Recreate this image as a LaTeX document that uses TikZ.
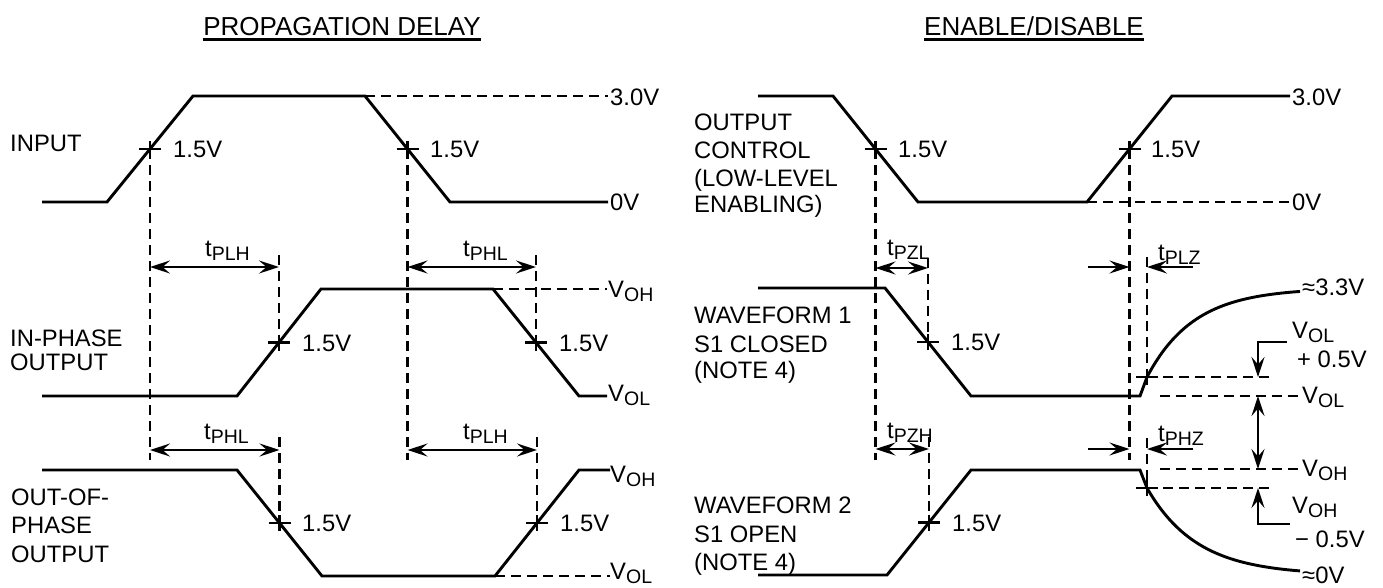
\documentclass[tikz,border=0pt]{standalone}
\usepackage{fontspec}
\setmainfont{Liberation Sans}
\usetikzlibrary{arrows.meta}
\newcommand\sbs[1]{\raisebox{-4pt}{\fontsize{19.5}{19.5}\selectfont #1}}
\tikzset{
  wave/.style={line width=2.9pt},
  dline/.style={line width=2.5pt, dash pattern=on 10pt off 6pt},
  tickln/.style={line width=2.5pt},
  arr/.style={line width=2.4pt},
  hd/.tip={Stealth[length=20pt,width=13pt,inset=7.5pt]},
  txt/.style={font=\fontsize{23.8}{27}\selectfont, inner sep=0pt, anchor=base west},
  ttl/.style={font=\fontsize{26}{30}\selectfont, inner sep=0pt, anchor=base},
  crossmk/.pic={\draw[tickln] (-11,0) -- (11,0) (0,-8) -- (0,8);}
}
\begin{document}
\begin{tikzpicture}[x=1pt,y=-1pt]
\useasboundingbox (0,0) rectangle (1383,587);
% ---------------- titles
\node[ttl] (T1) at (342,35) {PROPAGATION DELAY};
\draw[line width=2.8pt] ([yshift=-4.5pt]T1.base west) -- ([yshift=-4.5pt]T1.base east);
\node[ttl] (T2) at (1034,35) {ENABLE/DISABLE};
\draw[line width=2.8pt] ([yshift=-4.5pt]T2.base west) -- ([yshift=-4.5pt]T2.base east);

% ================= LEFT PANEL
\coordinate (cI1) at (150,149);
\coordinate (cI2) at (407.5,149);
\coordinate (cA1) at (279,342.5);
\coordinate (cA2) at (536,342.5);
\coordinate (cB1) at (279.5,523);
\coordinate (cB2) at (537,523);
% input
\draw[wave] (42,202) -- (107,202) -- (193,96) -- (365,96) -- (450,202) -- (608,202);
\draw[dline] (365,96) -- (608,96);
% in-phase
\draw[wave] (42,396) -- (237,396) -- (321,289) -- (493,289) -- (579,396) -- (607,396);
\draw[dline] (493,289) -- (607,289);
% out-of-phase
\draw[wave] (42,470) -- (237,470) -- (322,576) -- (495,576) -- (579,470) -- (610,470);
\draw[dline] (495,576) -- (610,576);
% vertical dashed
\draw[dline] (cI1) -- (150,460);
\draw[dline] (cI2) -- (407.5,460);
\draw[dline] (279,255) -- (cA1);
\draw[dline] (536,255) -- (cA2);
\draw[dline] (279.5,437) -- (cB1);
\draw[dline] (537,437) -- (cB2);
% crosses
\foreach \c in {cI1,cI2,cA1,cA2,cB1,cB2} \pic at (\c) {crossmk};
% dimension arrows
\draw[arr,{hd}-{hd}] (150,267) -- (279,267);
\draw[arr,{hd}-{hd}] (407.5,267) -- (536,267);
\draw[arr,{hd}-{hd}] (150,450) -- (279.5,450);
\draw[arr,{hd}-{hd}] (407.5,450) -- (537,450);
% labels
\node[txt] (lin) at (10,151) {INPUT};
\node[txt] (lip1) at (10,346) {IN-PHASE};
\node[txt] (lip2) at (10,370) {OUTPUT};
\node[txt] (lop1) at (11,505) {OUT-OF-};
\node[txt] (lop2) at (11,533) {PHASE};
\node[txt] (lop3) at (11,562) {OUTPUT};
\node[txt] (v1) at (173,157.5) {1.5V};
\node[txt] (v2) at (430,157.5) {1.5V};
\node[txt] (v3) at (302,351) {1.5V};
\node[txt] (v4) at (559,351) {1.5V};
\node[txt] (v5) at (302,531.5) {1.5V};
\node[txt] (v6) at (560,531.5) {1.5V};
\node[txt] (r1) at (610,105) {3.0V};
\node[txt] (r2) at (610,210) {0V};
\node[txt] (r3) at (608,297) {V\sbs{OH}};
\node[txt] (r4) at (608,401) {V\sbs{OL}};
\node[txt] (r5) at (610,482) {V\sbs{OH}};
\node[txt] (r6) at (610,579) {V\sbs{OL}};
\node[txt] (t1) at (205,256) {t\sbs{PLH}};
\node[txt] (t2) at (463,256) {t\sbs{PHL}};
\node[txt] (t3) at (204,439) {t\sbs{PHL}};
\node[txt] (t4) at (463,439) {t\sbs{PLH}};

% ================= RIGHT PANEL
\coordinate (cC1) at (875.5,149);
\coordinate (cC2) at (1129.5,149);
\coordinate (cW1) at (928,342);
\coordinate (cW2) at (929,522.5);
\coordinate (cZ1) at (1147,377);
\coordinate (cZ2) at (1147,488);
% output control
\draw[wave] (758,96) -- (833,96) -- (918,202) -- (1087,202) -- (1172,96) -- (1290,96);
\draw[dline] (1087,202) -- (1290,202);
% waveform 1
\draw[wave] (758,288) -- (885,288) -- (971,396) -- (1140,396) -- (cZ1)
  -- plot[domain=1147:1300,samples=50] (\x,{288+89*exp(-(\x-1147)/47)});
% waveform 2
\draw[wave] (758,575) -- (887,575) -- (971,470) -- (1140,470) -- (cZ2)
  -- plot[domain=1147:1300,samples=50] (\x,{575-87*exp(-(\x-1147)/50)});
% vertical dashed
\draw[dline] (cC1) -- (875.5,460);
\draw[dline] (cC2) -- (1129.5,460);
\draw[dline] (928,258) -- (cW1);
\draw[dline] (929,437) -- (cW2);
\draw[dline] (1147,257) -- (cZ1);
\draw[dline] (1147,438) -- (cZ2);
% horizontal dashed levels
\draw[dline] (cZ1) -- (1270,377);
\draw[dline] (1160,396) -- (1300,396);
\draw[dline] (1160,469) -- (1300,469);
\draw[dline] (cZ2) -- (1270,488);
% crosses
\foreach \c in {cC1,cC2,cW1,cW2,cZ1,cZ2} \pic at (\c) {crossmk};
% arrows
\draw[arr,{hd}-{hd}] (875.5,268) -- (928,268);
\draw[arr,{hd}-{hd}] (875.5,449) -- (929,449);
\draw[arr,-{hd}] (1088,267) -- (1129.5,267);
\draw[arr,-{hd}] (1193,267) -- (1147,267);
\draw[arr,-{hd}] (1088,449) -- (1129.5,449);
\draw[arr,-{hd}] (1193,449) -- (1147,449);
\draw[arr,-{hd}] (1287,342) -- (1258,342) -- (1258,377);
\draw[arr,{hd}-{hd}] (1258,396) -- (1258,469);
\draw[arr,-{hd}] (1290,524) -- (1258,524) -- (1258,488);
% labels
\node[txt] (oc1) at (694,130) {OUTPUT};
\node[txt] (oc2) at (694,158) {CONTROL};
\node[txt] (oc3) at (694,186) {(LOW-LEVEL};
\node[txt] (oc4) at (694,212) {ENABLING)};
\node[txt] (w11) at (694,323) {WAVEFORM 1};
\node[txt] (w12) at (694,352) {S1 CLOSED};
\node[txt] (w13) at (694,378) {(NOTE 4)};
\node[txt] (w21) at (694,513) {WAVEFORM 2};
\node[txt] (w22) at (694,542) {S1 OPEN};
\node[txt] (w23) at (694,570) {(NOTE 4)};
\node[txt] (u1) at (898,157.5) {1.5V};
\node[txt] (u2) at (1151,157.5) {1.5V};
\node[txt] (u3) at (951,350.5) {1.5V};
\node[txt] (u4) at (952,531) {1.5V};
\node[txt] (s1) at (1292,105) {3.0V};
\node[txt] (s2) at (1292,210) {0V};
\node[txt] (s3) at (1302,295) {≈3.3V};
\node[txt] (s4) at (1292,338) {V\sbs{OL}};
\node[txt] (s5) at (1297,367) {+ 0.5V};
\node[txt] (s6) at (1302,403) {V\sbs{OL}};
\node[txt] (s7) at (1302,476) {V\sbs{OH}};
\node[txt] (s8) at (1292,513) {V\sbs{OH}};
\node[txt] (s9) at (1295,547) {− 0.5V};
\node[txt] (s10) at (1302,583) {≈0V};
\node[txt] (z1) at (887,255) {t\sbs{PZL}};
\node[txt] (z2) at (887,438) {t\sbs{PZH}};
\node[txt] (z3) at (1158,260) {t\sbs{PLZ}};
\node[txt] (z4) at (1158,441) {t\sbs{PHZ}};
\end{tikzpicture}
\end{document}
